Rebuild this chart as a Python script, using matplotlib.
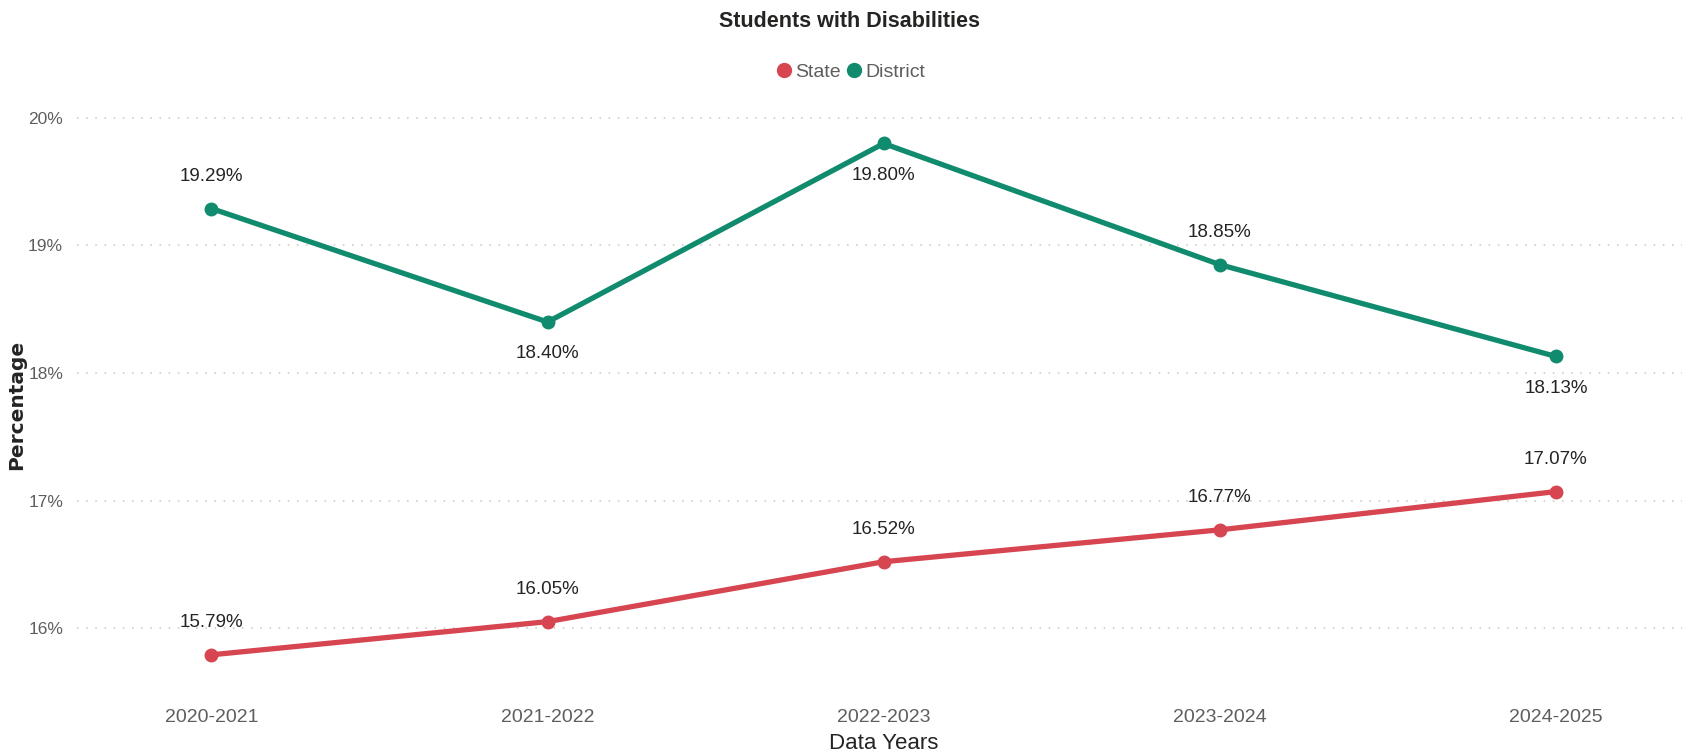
import matplotlib
matplotlib.use("Agg")
import matplotlib.pyplot as plt
from matplotlib.lines import Line2D
from matplotlib.ticker import FuncFormatter

# Datos del gráfico
years = ["2020-2021", "2021-2022", "2022-2023", "2023-2024", "2024-2025"]
state = [15.79, 16.05, 16.52, 16.77, 17.07]
district = [19.29, 18.40, 19.80, 18.85, 18.13]
y_ticks = [16, 17, 18, 19, 20]

# Estilo
RED = "#D64550"
GREEN = "#118B6E"
DARK = "#252423"
GRAY = "#605E5C"

plt.rcParams["font.family"] = ["Liberation Sans", "DejaVu Sans"]

fig = plt.figure(figsize=(16.96, 7.56), dpi=100)
ax = fig.add_axes([0.0454, 0.0873, 0.9463, 0.787])

x = list(range(len(years)))
ax.plot(x, district, color=GREEN, lw=3.8, marker="o", ms=9, solid_capstyle="round", zorder=3)
ax.plot(x, state, color=RED, lw=3.8, marker="o", ms=9, solid_capstyle="round", zorder=3)

# Etiquetas de datos (arriba = 1, abajo = -1)
district_side = [1, -1, -1, 1, -1]
for xi, v, s in zip(x, district, district_side):
    ax.annotate(f"{v:.2f}%", (xi, v), xytext=(0, 23 * s), textcoords="offset points",
                ha="center", va="center", fontsize=13.5, color=DARK)
for xi, v in zip(x, state):
    ax.annotate(f"{v:.2f}%", (xi, v), xytext=(0, 23), textcoords="offset points",
                ha="center", va="center", fontsize=13.5, color=DARK)

ax.set_xlim(-0.40, 4.375)
ax.set_ylim(15.514, 20.18)
ax.set_xticks(x)
ax.set_xticklabels(years)
ax.set_yticks(y_ticks)
ax.yaxis.set_major_formatter(FuncFormatter(lambda v, p: f"{v:.0f}%"))
ax.tick_params(axis="both", length=0, labelcolor=GRAY)
ax.tick_params(axis="x", labelsize=14, pad=14)
ax.tick_params(axis="y", labelsize=12.5, pad=10)
ax.grid(axis="y", color="#C8C6C4", linestyle=(0, (1, 5)), lw=1.1)
for sp in ax.spines.values():
    sp.set_visible(False)

fig.text(0.521, 0.017, "Data Years", ha="center", va="center", fontsize=16, color=DARK)
fig.text(0.0098, 0.464, "Percentage", rotation=90, ha="center", va="center",
         fontsize=14.5, fontweight="bold", color=DARK, family="DejaVu Sans")

fig.text(0.501, 0.971, "Students with Disabilities", ha="center", va="center",
         fontsize=15.5, fontweight="bold", color=DARK)

handles = [Line2D([], [], ls="none", marker="o", ms=10, color=RED),
           Line2D([], [], ls="none", marker="o", ms=10, color=GREEN)]
fig.legend(handles, ["State", "District"], loc="center", bbox_to_anchor=(0.501, 0.905),
           ncol=2, frameon=False, fontsize=14, labelcolor=GRAY,
           handletextpad=0.05, columnspacing=0.2, handlelength=1.0)

fig.savefig("out.png", dpi=100, facecolor="white")
